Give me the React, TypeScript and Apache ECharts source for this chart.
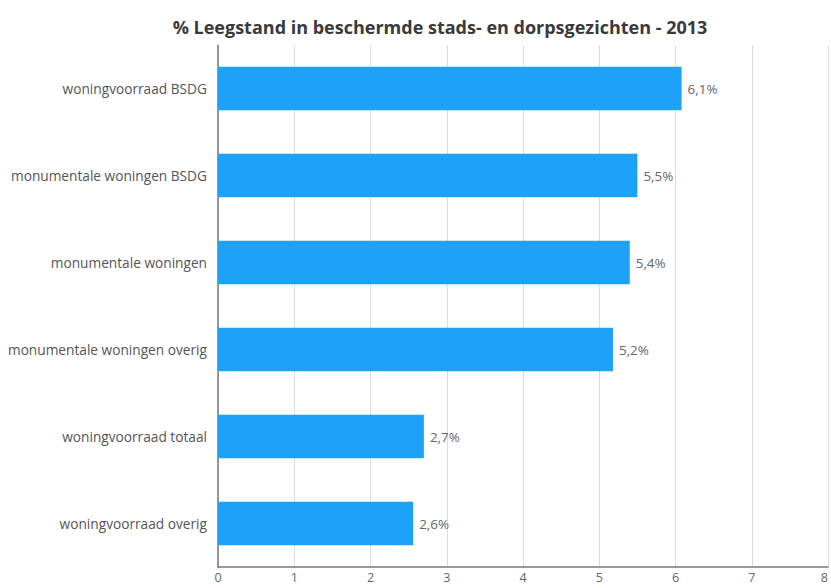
import React, { useEffect, useRef } from "react";
import * as echarts from "echarts";

const categories = [
  "woningvoorraad BSDG",
  "monumentale woningen BSDG",
  "monumentale woningen",
  "monumentale woningen overig",
  "woningvoorraad totaal",
  "woningvoorraad overig",
];
const values = [6.08, 5.5, 5.4, 5.18, 2.7, 2.56];
const valueLabels = ["6,1%", "5,5%", "5,4%", "5,2%", "2,7%", "2,6%"];
const xTicks = [0, 1, 2, 3, 4, 5, 6, 7, 8];
const title = "% Leegstand in beschermde stads- en dorpsgezichten - 2013";

export default function App() {
  const ref = useRef<HTMLDivElement>(null);
  useEffect(() => {
    if (!ref.current) return;
    const chart = echarts.init(ref.current, undefined, { renderer: "svg" });
    chart.setOption({
      animation: false,
      backgroundColor: "#ffffff",
      title: {
        text: title,
        left: 435,
        textAlign: "center",
        top: 13,
        textStyle: {
          fontFamily: "Open Sans",
          fontWeight: "bold",
          fontSize: 18,
          color: "#3a3a3a",
        },
      },
      grid: { left: 218, right: 3, top: 45, bottom: 21, containLabel: false },
      xAxis: {
        type: "value",
        min: xTicks[0],
        max: xTicks[xTicks.length - 1],
        interval: 1,
        axisLine: { show: true, lineStyle: { color: "#777", width: 1.5 } },
        axisTick: { show: false },
        splitLine: { show: true, lineStyle: { color: "#dddddd", width: 1 } },
        axisLabel: {
          color: "#666",
          fontFamily: "Open Sans",
          fontSize: 12.5,
          margin: 3,
          lineHeight: 15,
          showMaxLabel: true,
          alignMaxLabel: "right",
        },
      },
      yAxis: {
        type: "category",
        data: categories,
        inverse: true,
        axisLine: { show: true, lineStyle: { color: "#777", width: 1.5 } },
        axisTick: { show: false },
        axisLabel: {
          color: "#555",
          fontFamily: "Open Sans",
          fontSize: 13.7,
          margin: 11,
        },
      },
      series: [
        {
          type: "bar",
          data: values,
          barWidth: "50%",
          itemStyle: { color: "#1ea2f7" },
          label: {
            show: true,
            position: "right",
            distance: 6,
            color: "#666",
            fontFamily: "Open Sans",
            fontSize: 13.4,
            formatter: (p: any) => valueLabels[p.dataIndex],
          },
        },
      ],
    });
    return () => chart.dispose();
  }, []);
  return (
    <div
      ref={ref}
      style={{ position: "fixed", left: 0, top: 0, width: 831, height: 588 }}
    />
  );
}
